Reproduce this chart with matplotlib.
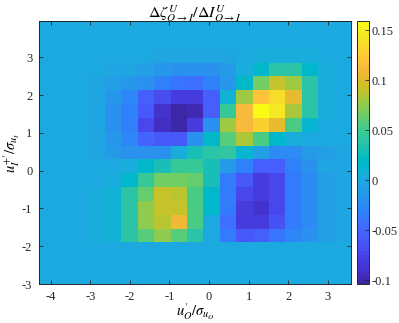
import matplotlib
matplotlib.use("Agg")
import matplotlib.pyplot as plt
import numpy as np
from matplotlib.colors import ListedColormap

# bin edges of the 19x19 grid
x_lim = [-4.29, 3.59]
y_lim = [-3.0, 3.96]
n_bins = 19

x_ticks = [-4, -3, -2, -1, 0, 1, 2, 3]
y_ticks = [-3, -2, -1, 0, 1, 2, 3]
cb_ticks = [-0.1, -0.05, 0, 0.05, 0.1, 0.15]
cb_labels = ["-0.1", "-0.05", "0", "0.05", "0.1", "0.15"]

# cell values, rows listed from top (y=3.96) to bottom (y=-3)
z = np.zeros(19)
r2 = [0, 0, 0, 0, 0, 0, 0, -0.002, -0.003, -0.003, -0.003, -0.002, 0.001, 0.003, 0.003, 0.003, 0.003, 0.001, 0]
r3 = [0, 0, 0, -0.001, -0.002, -0.004, -0.006, -0.014, -0.018, -0.018, -0.02, -0.012, 0.004, 0.018, 0.036, 0.036, 0.016, 0.004, 0.001]
r4 = [0, 0, 0, -0.003, -0.006, -0.016, -0.02, -0.032, -0.04, -0.045, -0.034, -0.014, 0.016, 0.066, 0.09, 0.077, 0.036, 0.005, 0.001]
r5 = [0, 0, -0.001, -0.004, -0.014, -0.03, -0.056, -0.07, -0.083, -0.083, -0.056, 0.009, 0.08, 0.121, 0.136, 0.104, 0.038, 0.006, 0.001]
r6 = [0, 0, -0.001, -0.005, -0.018, -0.034, -0.06, -0.09, -0.104, -0.096, -0.058, 0.046, 0.112, 0.159, 0.143, 0.085, 0.036, 0.006, 0.001]
r7 = [0, 0, -0.001, -0.005, -0.018, -0.034, -0.072, -0.092, -0.102, -0.083, -0.018, 0.08, 0.112, 0.13, 0.104, 0.055, 0.012, 0.002, 0]
r8 = [0, 0, -0.001, -0.004, -0.016, -0.03, -0.054, -0.062, -0.062, -0.02, 0.018, 0.06, 0.081, 0.054, 0.018, 0.006, 0.002, 0, 0]
r9 = [0, 0, 0, -0.002, -0.01, -0.018, -0.02, -0.02, 0.003, 0.028, 0.036, 0.042, 0.014, -0.008, -0.024, -0.024, -0.013, -0.006, -0.002]
r10 = [0, 0, 0, 0.001, 0.002, 0.006, 0.018, 0.028, 0.045, 0.045, 0.028, -0.01, -0.034, -0.057, -0.057, -0.034, -0.018, -0.005, -0.002]
r11 = [0, 0, 0.001, 0.002, 0.006, 0.016, 0.048, 0.068, 0.068, 0.063, 0.028, -0.036, -0.062, -0.08, -0.075, -0.036, -0.022, -0.006, -0.002]
r12 = [0, 0, 0.001, 0.003, 0.01, 0.038, 0.063, 0.093, 0.088, 0.054, 0.017, -0.036, -0.072, -0.083, -0.072, -0.036, -0.022, -0.006, -0.002]
r13 = [0, 0, 0.001, 0.003, 0.01, 0.038, 0.075, 0.093, 0.093, 0.054, 0.017, -0.038, -0.08, -0.09, -0.072, -0.036, -0.022, -0.006, -0.002]
r14 = [0, 0, 0.001, 0.003, 0.01, 0.038, 0.074, 0.088, 0.106, 0.054, 0.002, -0.046, -0.08, -0.08, -0.064, -0.036, -0.022, -0.006, -0.002]
r15 = [0, 0, 0.001, 0.003, 0.008, 0.038, 0.06, 0.076, 0.06, 0.036, 0.0, -0.036, -0.062, -0.056, -0.04, -0.028, -0.018, -0.006, -0.002]
rows_top_down = [z, z, r2, r3, r4, r5, r6, r7, r8, r9, r10, r11, r12, r13, r14, r15, z, z, z]

# MATLAB parula
parula = [
    [0.2422, 0.1504, 0.6603], [0.2504, 0.1650, 0.7076], [0.2578, 0.1818, 0.7511], [0.2647, 0.1978, 0.7952],
    [0.2706, 0.2147, 0.8364], [0.2751, 0.2342, 0.8710], [0.2783, 0.2559, 0.8991], [0.2803, 0.2782, 0.9221],
    [0.2813, 0.3006, 0.9414], [0.2810, 0.3228, 0.9579], [0.2795, 0.3447, 0.9717], [0.2760, 0.3667, 0.9829],
    [0.2699, 0.3892, 0.9906], [0.2602, 0.4123, 0.9952], [0.2440, 0.4358, 0.9988], [0.2206, 0.4603, 0.9973],
    [0.1963, 0.4847, 0.9892], [0.1834, 0.5074, 0.9798], [0.1786, 0.5289, 0.9682], [0.1764, 0.5499, 0.9520],
    [0.1687, 0.5703, 0.9359], [0.1540, 0.5902, 0.9218], [0.1460, 0.6091, 0.9079], [0.1380, 0.6276, 0.8973],
    [0.1248, 0.6459, 0.8883], [0.1113, 0.6635, 0.8763], [0.0952, 0.6798, 0.8598], [0.0689, 0.6948, 0.8394],
    [0.0297, 0.7082, 0.8163], [0.0036, 0.7203, 0.7917], [0.0067, 0.7312, 0.7660], [0.0433, 0.7411, 0.7394],
    [0.0964, 0.7500, 0.7120], [0.1408, 0.7584, 0.6842], [0.1717, 0.7670, 0.6554], [0.1938, 0.7758, 0.6251],
    [0.2161, 0.7843, 0.5923], [0.2470, 0.7918, 0.5567], [0.2906, 0.7973, 0.5188], [0.3406, 0.8008, 0.4789],
    [0.3909, 0.8029, 0.4354], [0.4456, 0.8024, 0.3909], [0.5044, 0.7993, 0.3480], [0.5616, 0.7942, 0.3045],
    [0.6174, 0.7876, 0.2612], [0.6720, 0.7793, 0.2227], [0.7242, 0.7698, 0.1910], [0.7738, 0.7598, 0.1646],
    [0.8203, 0.7498, 0.1535], [0.8634, 0.7406, 0.1596], [0.9035, 0.7330, 0.1774], [0.9393, 0.7288, 0.2100],
    [0.9728, 0.7298, 0.2394], [0.9956, 0.7434, 0.2371], [0.9970, 0.7659, 0.2199], [0.9952, 0.7893, 0.2028],
    [0.9892, 0.8136, 0.1885], [0.9786, 0.8386, 0.1766], [0.9676, 0.8639, 0.1643], [0.9610, 0.8890, 0.1537],
    [0.9597, 0.9135, 0.1423], [0.9628, 0.9373, 0.1265], [0.9691, 0.9606, 0.1064], [0.9769, 0.9839, 0.0805]]
cmap = ListedColormap(parula)

plt.rcParams['font.family'] = ['Liberation Serif', 'DejaVu Serif']
plt.rcParams['mathtext.fontset'] = 'stix'
plt.rcParams['axes.unicode_minus'] = False

Z = np.flipud(np.array(rows_top_down))
xe = np.linspace(x_lim[0], x_lim[1], n_bins + 1)
ye = np.linspace(y_lim[0], y_lim[1], n_bins + 1)

fig = plt.figure(figsize=(3.99, 3.23), dpi=100)
ax = fig.add_axes([0.0985, 0.1207, 0.7812, 0.8142])
mesh = ax.pcolormesh(xe, ye, Z, cmap=cmap, shading='flat')
ax.set_xlim(x_lim)
ax.set_ylim(y_lim)
ax.set_xticks(x_ticks)
ax.set_yticks(y_ticks)
ax.tick_params(direction='in', top=True, right=True, length=3, width=0.6,
               labelsize=9, colors='#262626')
ax.tick_params(axis='x', pad=5)
ax.tick_params(axis='y', pad=5)
for s in ax.spines.values():
    s.set_linewidth(0.7)
    s.set_color('#262626')
ax.set_title(r'$\Delta\zeta^{U}_{O\rightarrow I}/\Delta I^{U}_{O\rightarrow I}$', fontsize=11.5, pad=2)
ax.set_xlabel(r"$u_O'/\sigma_{u_O}$", fontsize=10.5, labelpad=-1)
ax.set_ylabel(r"$u_I^{+\prime}/\sigma_{u_I}$", fontsize=10.5, labelpad=0)

cax = fig.add_axes([0.8955, 0.1207, 0.0293, 0.8142])
cb = fig.colorbar(mesh, cax=cax, ticks=cb_ticks)
cb.ax.set_yticklabels(cb_labels)
cb.ax.tick_params(direction='in', length=3, width=0.6, labelsize=9, colors='#262626', pad=2)
cb.outline.set_linewidth(0.7)
cb.outline.set_edgecolor('#262626')

fig.savefig('out.png', dpi=100)
